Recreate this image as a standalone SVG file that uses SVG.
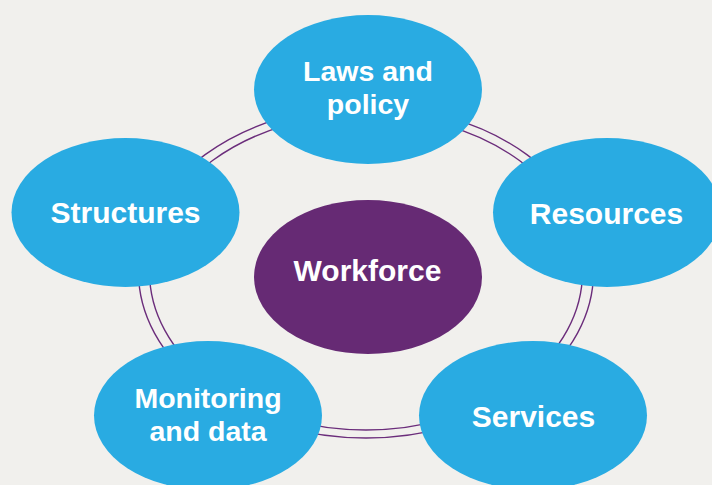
<svg xmlns="http://www.w3.org/2000/svg" width="712" height="485" viewBox="0 0 712 485">
<style>
.bg{fill:#f1f0ed}
.ring{fill:none;stroke:#6b2d7b;stroke-width:1.4}
.outer{fill:#29abe2}
.core{fill:#662a74}
.lbl{font-family:"Liberation Sans",Arial,sans-serif;font-weight:bold;font-size:30px;fill:#ffffff;text-anchor:middle}
.two{font-size:28.5px}
</style>
<rect class="bg" x="0" y="0" width="712" height="485"/>
<g id="connectors">
<ellipse class="ring" cx="366" cy="272" rx="227.5" ry="166"/>
<ellipse class="ring" cx="366" cy="272" rx="216.5" ry="158"/>
</g>
<g id="laws-and-policy">
<ellipse class="outer" cx="368" cy="89.5" rx="114" ry="74.5"/>
<text class="lbl two" x="368" y="81">Laws and</text>
<text class="lbl two" x="368" y="114">policy</text>
</g>
<g id="structures">
<ellipse class="outer" cx="125.5" cy="212.5" rx="114" ry="74.5"/>
<text class="lbl" x="125.5" y="223">Structures</text>
</g>
<g id="resources">
<ellipse class="outer" cx="607" cy="212.5" rx="114" ry="74.5"/>
<text class="lbl" x="606.5" y="224">Resources</text>
</g>
<g id="workforce">
<ellipse class="core" cx="368" cy="277" rx="114" ry="77"/>
<text class="lbl" x="367.5" y="281">Workforce</text>
</g>
<g id="monitoring-and-data">
<ellipse class="outer" cx="208" cy="415.5" rx="114" ry="74.5"/>
<text class="lbl two" x="208" y="407.5">Monitoring</text>
<text class="lbl two" x="208" y="440.5">and data</text>
</g>
<g id="services">
<ellipse class="outer" cx="533" cy="415.5" rx="114" ry="74.5"/>
<text class="lbl" x="533.5" y="427">Services</text>
</g>
</svg>
